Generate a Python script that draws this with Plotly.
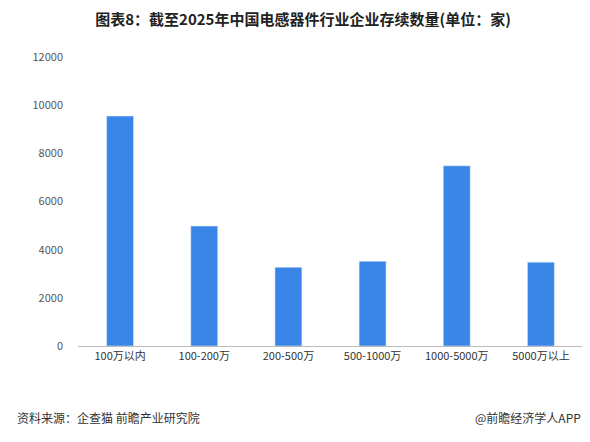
import plotly.graph_objects as go

categories = ["100万以内", "100-200万", "200-500万", "500-1000万", "1000-5000万", "5000万以上"]
counts = [9550, 4980, 3270, 3520, 7480, 3480]

fig = go.Figure(
    go.Bar(x=categories, y=counts, marker_color="#3a86e8", width=0.32)
)

fig.update_layout(
    width=590, height=442,
    margin=dict(l=70, r=15, t=49, b=104),
    paper_bgcolor="white", plot_bgcolor="white",
    font=dict(family="Noto Sans CJK SC", size=11, color="#333"),
    title=dict(text="<b>图表8：截至2025年中国电感器件行业企业存续数量(单位：家)</b>",
               x=0.5, y=0.985, xanchor="center", font=dict(size=15, color="#222")),
    showlegend=False,
    xaxis=dict(showline=True, linecolor="#bbb", ticks="", tickfont=dict(size=11)),
    yaxis=dict(range=[0, 12000], dtick=2000, tickformat="d", showgrid=False, showline=False,
               ticklabelstandoff=14, tickfont=dict(size=11, color="#555")),
)

fig.add_annotation(text="资料来源：企查猫 前瞻产业研究院", xref="paper", yref="paper",
                   x=-0.125, y=-0.285, xanchor="left", showarrow=False, font=dict(size=12, color="#333"))
fig.add_annotation(text="@前瞻经济学人APP", xref="paper", yref="paper",
                   x=1.0, y=-0.285, xanchor="right", showarrow=False, font=dict(size=12, color="#333"))

fig.write_html("out.html")
